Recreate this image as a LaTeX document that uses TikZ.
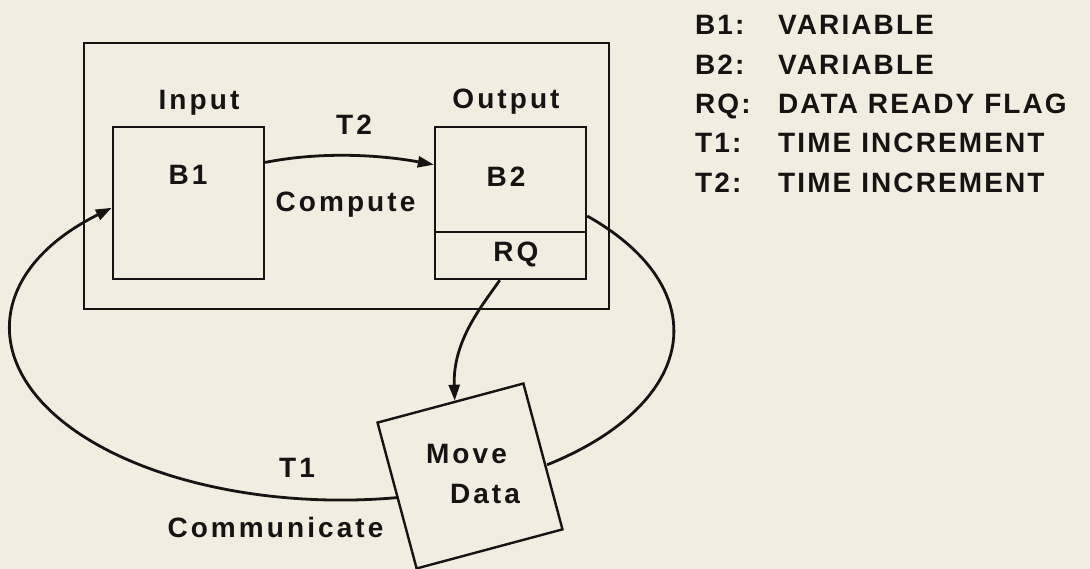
\documentclass[tikz,border=0pt]{standalone}
\usepackage{fontspec}
\usetikzlibrary{arrows.meta,calc}
\newfontfamily\diagfont[LetterSpace=11]{Liberation Sans}
\newfontfamily\legfont[LetterSpace=7.5]{Liberation Sans}
\definecolor{bgc}{RGB}{242,237,225}
\definecolor{ink}{RGB}{22,20,18}
\begin{document}
\begin{tikzpicture}[x=1pt,y=-1pt,
  box/.style={draw=ink, line width=2.4pt, inner sep=0pt, fill=none},
  lab/.style={font=\diagfont\bfseries\fontsize{28}{32}\selectfont, text=ink, inner sep=0pt, anchor=base},
  leg/.style={font=\legfont\bfseries\fontsize{28}{32}\selectfont, text=ink, inner sep=0pt, anchor=base west},
  conn/.style={draw=ink, line width=2.8pt},
  tipend/.style={-{Triangle[length=16pt,width=11pt]}},
  tipstart/.style={{Triangle[length=16pt,width=11pt]}-}]
\fill[bgc] (0,0) rectangle (1090,569);
\useasboundingbox (0,0) rectangle (1090,569);

% boxes
\node[box, minimum width=525pt, minimum height=266pt] (outer) at (346.5,176) {};
\node[box, minimum width=151pt, minimum height=152pt] (b1) at (188.5,203) {};
\node[box, minimum width=151pt, minimum height=105pt] (b2) at (510.5,179.5) {};
\node[box, minimum width=151pt, minimum height=47pt] (rq) at (510.5,255.5) {};
\node[box, minimum width=151pt, minimum height=151pt, rotate=15] (md) at (470,476) {};

% labels
\node[lab] (linput) at (199,110) {Input};
\node[lab] (loutput) at (506,109) {Output};
\node[lab] (lt2) at (354,135) {T2};
\node[lab] (lb1) at (188,185) {B1};
\node[lab] (lb2) at (506,187) {B2};
\node[lab] (lcompute) at (345.5,212) {Compute};
\node[lab] (lrq) at (516,262) {RQ};
\node[lab] (lt1) at (297,477) {T1};
\node[lab] (lcomm) at (275.5,537) {Communicate};
\node[lab] (lmove) at (466.5,463) {Move};
\node[lab] (ldata) at (485,503) {Data};

% connectors
\draw[conn, tipend] ($(b1.north east)!0.237!(b1.south east)$)
  .. controls +(56,-11) and +(-55,-10) .. ($(b2.north west)!0.362!(b2.south west)$);
\draw[conn, tipend] ($(rq.south west)!0.43!(rq.south east)$)
  .. controls +(-18,26) and +(-2,-60) .. ($(md.north west)!0.531!(md.north east)$);
\draw[conn, tipstart] ($(b1.north west)!0.531!(b1.south west)$)
  arc[start angle=226, end angle=80, x radius=330, y radius=170];
\draw[conn] ($(b2.north east)!0.84!(b2.south east)$)
  arc[start angle=-42.5, end angle=52, x radius=330, y radius=170];

% legend
\node[leg] (k1) at (695,35) {B1:};
\node[leg] (k2) at (695,75) {B2:};
\node[leg] (k3) at (695,114) {RQ:};
\node[leg] (k4) at (695,153) {T1:};
\node[leg] (k5) at (695,193) {T2:};
\node[leg] (v1) at (778,35) {VARIABLE};
\node[leg] (v2) at (778,75) {VARIABLE};
\node[leg] (v3) at (778,114) {DATA READY FLAG};
\node[leg] (v4) at (778,153) {TIME INCREMENT};
\node[leg] (v5) at (778,193) {TIME INCREMENT};
\end{tikzpicture}
\end{document}
